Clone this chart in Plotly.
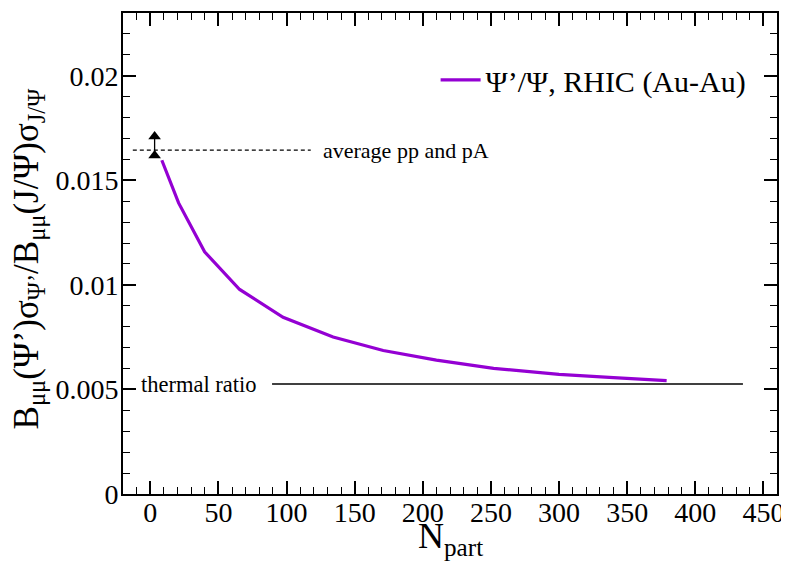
import plotly.graph_objects as go

# Data
n_part = [8.5, 20.8, 39.9, 65.6, 97.5, 134.2, 171, 210, 252, 300, 340, 379]
ratio = [0.01596, 0.01392, 0.01158, 0.00978, 0.00845, 0.00751, 0.00686,
         0.00640, 0.00601, 0.00572, 0.00556, 0.00542]

thermal_x = [89.4, 435]
thermal_y = [0.00526, 0.00526]

avg_x = [-12.8, 117.8]
avg_y = [0.01644, 0.01644]

arrow_x = [3.2, 3.2]
arrow_y = [0.01619, 0.01710]

x_ticks = [0, 50, 100, 150, 200, 250, 300, 350, 400, 450]
y_ticks = [0, 0.005, 0.01, 0.015, 0.02]
y_tick_text = ["0", "0.005", "0.01", "0.015", "0.02"]

FONT = "Liberation Serif"

fig = go.Figure()

fig.add_trace(go.Scatter(x=thermal_x, y=thermal_y, mode="lines",
                         line=dict(color="black", width=1.5), showlegend=False,
                         hoverinfo="skip"))
fig.add_trace(go.Scatter(x=avg_x, y=avg_y, mode="lines",
                         line=dict(color="black", width=1.3, dash="4px,3px"),
                         showlegend=False, hoverinfo="skip"))
fig.add_trace(go.Scatter(x=arrow_x, y=arrow_y, mode="lines+markers",
                         line=dict(color="black", width=1.3),
                         marker=dict(symbol="triangle-up", size=11, color="black"),
                         showlegend=False, hoverinfo="skip"))
fig.add_trace(go.Scatter(x=n_part, y=ratio, mode="lines",
                         line=dict(color="#9400D3", width=3.2),
                         name="Ψ’/Ψ, RHIC (Au-Au)"))

fig.add_annotation(x=125, y=avg_y[0], xref="x", yref="y", text="average pp and pA",
                   showarrow=False, xanchor="left", yanchor="middle",
                   font=dict(family=FONT, size=22, color="black"))
fig.add_annotation(x=-8.5, y=thermal_y[0], xref="x", yref="y", text="thermal ratio",
                   showarrow=False, xanchor="left", yanchor="middle",
                   font=dict(family=FONT, size=22.5, color="black"))

# axis titles as annotations for exact placement
fig.add_annotation(x=-0.145, y=0.49, xref="paper", yref="paper",
                   text="B<sub>μμ</sub>(Ψ’)σ<sub>Ψ’</sub>/B<sub>μμ</sub>(J/Ψ)σ<sub>J/Ψ</sub>",
                   textangle=-90, showarrow=False, xanchor="center", yanchor="middle",
                   font=dict(family=FONT, size=35, color="black"))
fig.add_annotation(x=0.5, y=-0.092, xref="paper", yref="paper",
                   text="N<sub>part</sub>", showarrow=False,
                   xanchor="center", yanchor="middle",
                   font=dict(family=FONT, size=36, color="black"))

axis_common = dict(showline=True, linecolor="black", linewidth=2, mirror="allticks",
                   ticks="inside", ticklen=13, tickwidth=1.5, tickcolor="black",
                   showgrid=False, zeroline=False, automargin=False,
                   tickfont=dict(family=FONT, size=28, color="black"))

fig.update_xaxes(range=[-20, 460], tickvals=x_ticks, ticklabelstandoff=-8,
                 minor=dict(dtick=10, ticks="inside", ticklen=7, tickwidth=1.2,
                            tickcolor="black", showgrid=False),
                 **axis_common)
fig.update_yaxes(range=[0, 0.023], tickvals=y_ticks, ticktext=y_tick_text,
                 ticklabelstandoff=-3,
                 minor=dict(dtick=0.001, ticks="inside", ticklen=7, tickwidth=1.2,
                            tickcolor="black", showgrid=False),
                 **axis_common)

fig.update_layout(
    width=789, height=572,
    margin=dict(l=115, r=20, t=5, b=86),
    paper_bgcolor="white", plot_bgcolor="white",
    font=dict(family=FONT, color="black"),
    legend=dict(x=0.478, y=0.861, xanchor="left", yanchor="middle",
                bgcolor="rgba(0,0,0,0)", font=dict(family=FONT, size=30, color="black"),
                itemwidth=40),
)

fig.write_html("out.html")
